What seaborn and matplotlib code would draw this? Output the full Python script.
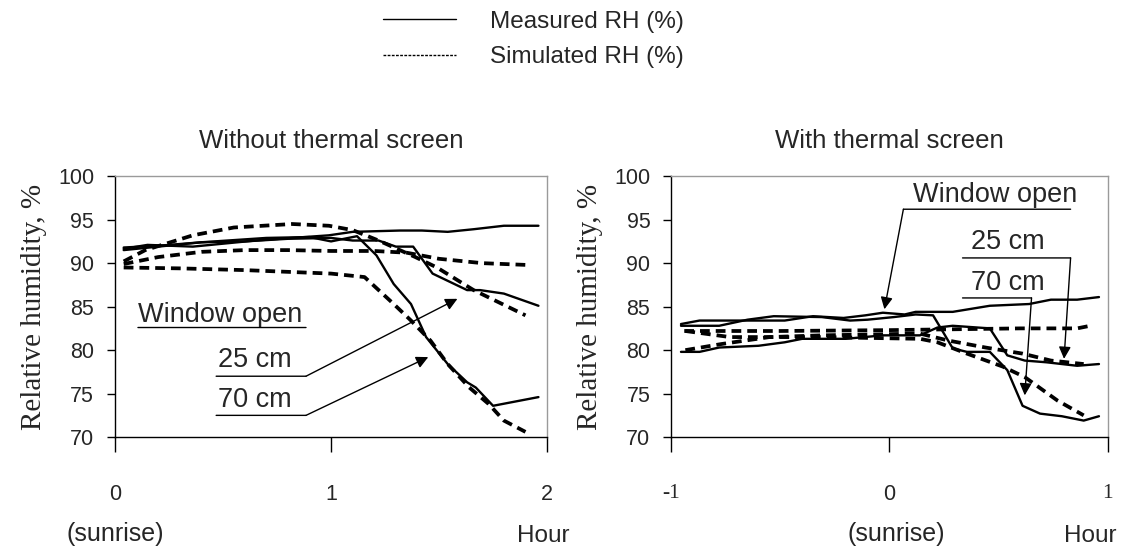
import matplotlib
matplotlib.use('Agg')
import matplotlib.pyplot as plt
import seaborn as sns
import pandas as pd
from matplotlib.lines import Line2D

# ---------------- data ----------------
# without thermal screen
no_closed_meas_x = [0.04, 0.15, 0.36, 0.65, 0.99, 1.10, 1.32, 1.42, 1.54, 1.66, 1.80, 1.96]
no_closed_meas_y = [91.65, 92.1, 91.9, 92.6, 93.2, 93.6, 93.75, 93.75, 93.6, 93.9, 94.3, 94.3]
no_25_meas_x = [0.04, 0.2, 0.4, 0.6, 0.8, 1.0, 1.1, 1.22, 1.3, 1.38, 1.47, 1.63, 1.69, 1.80, 1.96]
no_25_meas_y = [91.8, 92.0, 92.4, 92.5, 92.8, 92.9, 92.6, 92.6, 91.9, 91.9, 88.8, 86.9, 86.9, 86.5, 85.1]
no_70_meas_x = [0.04, 0.2, 0.4, 0.7, 0.9, 1.0, 1.12, 1.21, 1.29, 1.37, 1.44, 1.54, 1.63, 1.67, 1.75, 1.96]
no_70_meas_y = [91.5, 91.9, 92.4, 92.9, 93.0, 92.5, 93.1, 90.9, 87.6, 85.3, 81.5, 78.4, 76.3, 75.7, 73.6, 74.6]
no_closed_sim_x = [0.04, 0.2, 0.4, 0.6, 0.8, 1.0, 1.2, 1.35, 1.5, 1.7, 1.9]
no_closed_sim_y = [89.9, 90.7, 91.3, 91.5, 91.5, 91.4, 91.4, 91.2, 90.5, 90.0, 89.8]
no_25_sim_x = [0.04, 0.14, 0.36, 0.55, 0.82, 0.99, 1.1, 1.22, 1.39, 1.49, 1.66, 1.90]
no_25_sim_y = [90.2, 91.5, 93.2, 94.1, 94.5, 94.3, 93.8, 92.6, 90.7, 89.5, 86.9, 84.0]
no_70_sim_x = [0.04, 0.3, 0.6, 0.9, 1.0, 1.155, 1.29, 1.37, 1.46, 1.54, 1.64, 1.73, 1.80, 1.90]
no_70_sim_y = [89.5, 89.4, 89.2, 88.9, 88.8, 88.4, 85.3, 83.4, 81.1, 78.4, 75.7, 73.8, 71.9, 70.6]

# with thermal screen
sc_closed_meas_x = [-0.955, -0.87, -0.48, -0.35, -0.21, -0.11, -0.03, 0.07, 0.12, 0.29, 0.46, 0.64, 0.74, 0.86, 0.96]
sc_closed_meas_y = [83.0, 83.4, 83.4, 83.9, 83.7, 84.0, 84.3, 84.1, 84.4, 84.4, 85.1, 85.3, 85.8, 85.8, 86.1]
sc_25_meas_x = [-0.955, -0.87, -0.78, -0.60, -0.48, -0.40, -0.20, -0.03, 0.14, 0.22, 0.29, 0.46, 0.54, 0.62, 0.72, 0.86, 0.96]
sc_25_meas_y = [79.8, 79.8, 80.3, 80.5, 80.9, 81.3, 81.3, 81.7, 81.7, 82.6, 82.8, 82.5, 79.4, 78.8, 78.6, 78.2, 78.4]
sc_70_meas_x = [-0.955, -0.78, -0.65, -0.53, -0.31, -0.18, -0.10, 0.02, 0.12, 0.20, 0.25, 0.29, 0.355, 0.46, 0.54, 0.61, 0.69, 0.79, 0.89, 0.96]
sc_70_meas_y = [82.8, 82.8, 83.5, 83.9, 83.8, 83.4, 83.5, 83.8, 84.1, 84.0, 81.9, 80.2, 79.8, 79.8, 77.7, 73.6, 72.7, 72.4, 71.9, 72.4]
sc_closed_sim_x = [-0.94, -0.5, 0.0, 0.3, 0.6, 0.86, 0.92]
sc_closed_sim_y = [82.2, 82.2, 82.3, 82.4, 82.5, 82.5, 82.8]
sc_25_sim_x = [-0.935, -0.77, -0.55, -0.31, 0.14, 0.27, 0.44, 0.61, 0.74, 0.89]
sc_25_sim_y = [80.0, 80.7, 81.5, 81.7, 81.9, 81.1, 80.3, 79.6, 78.8, 78.4]
sc_70_sim_x = [-0.935, -0.73, -0.31, 0.14, 0.22, 0.355, 0.52, 0.62, 0.77, 0.89]
sc_70_sim_y = [82.2, 81.5, 81.5, 81.3, 80.9, 79.6, 78.1, 76.9, 74.2, 72.5]

panel_titles = ['Without thermal screen', 'With thermal screen']
legend_labels = ['Measured RH (%)', 'Simulated RH (%)']
y_ticks = [70, 75, 80, 85, 90, 95, 100]

# ---------------- style ----------------
sns.set_style('ticks')
plt.rcParams['font.family'] = ['Liberation Sans', 'DejaVu Sans']
SERIF = 'Liberation Serif'

fig = plt.figure(figsize=(11.28, 5.54), dpi=100)
ax1 = fig.add_axes([0.1020, 0.211, 0.3830, 0.471])
ax2 = fig.add_axes([0.5950, 0.211, 0.3870, 0.471])

solid_kw = dict(color='black', linewidth=1.7)
dash_kw = dict(color='black', linewidth=2.7, dashes=(2.6, 1.6))


def draw(ax, x, y, kw):
    df = pd.DataFrame({'hour': x, 'rh': y})
    sns.lineplot(data=df, x='hour', y='rh', ax=ax, estimator=None, sort=False, **kw)


for x, y in [(no_closed_sim_x, no_closed_sim_y), (no_25_sim_x, no_25_sim_y), (no_70_sim_x, no_70_sim_y)]:
    draw(ax1, x, y, dash_kw)
for x, y in [(no_closed_meas_x, no_closed_meas_y), (no_25_meas_x, no_25_meas_y), (no_70_meas_x, no_70_meas_y)]:
    draw(ax1, x, y, solid_kw)
for x, y in [(sc_closed_sim_x, sc_closed_sim_y), (sc_25_sim_x, sc_25_sim_y), (sc_70_sim_x, sc_70_sim_y)]:
    draw(ax2, x, y, dash_kw)
for x, y in [(sc_closed_meas_x, sc_closed_meas_y), (sc_25_meas_x, sc_25_meas_y), (sc_70_meas_x, sc_70_meas_y)]:
    draw(ax2, x, y, solid_kw)

# ---------------- axes ----------------
for ax, title, xlim in [(ax1, panel_titles[0], (0, 2)), (ax2, panel_titles[1], (-1, 1))]:
    ax.set_xlim(*xlim)
    ax.set_ylim(70, 100)
    ax.set_yticks(y_ticks)
    ax.set_xticks([xlim[0], (xlim[0] + xlim[1]) / 2, xlim[1]])
    ax.set_xlabel('')
    ax.set_ylabel('Relative humidity, %', family=SERIF, fontsize=21, labelpad=8)
    ax.set_title(title, fontsize=18.5, pad=20)
    for s in ['left', 'bottom']:
        ax.spines[s].set_color('black')
        ax.spines[s].set_linewidth(1.0)
    for s in ['top', 'right']:
        ax.spines[s].set_color('#9a9a9a')
        ax.spines[s].set_linewidth(1.0)
    ax.tick_params(axis='y', length=6, width=1, labelsize=15.5, pad=9, color='black')
    ax.tick_params(axis='x', length=11, width=1, labelsize=15.5, pad=23, color='black')

ax1.set_xticklabels(['0', '1', '2'])
ax2.set_xticklabels(['-1', '0', '1'])
for lab, fam in zip(ax2.get_xticklabels(), [SERIF, 'Liberation Sans', SERIF]):
    lab.set_family(fam)

tr1 = ax1.get_xaxis_transform()
tr2 = ax2.get_xaxis_transform()
ax1.text(0.0, -0.37, '(sunrise)', transform=tr1, ha='center', va='center', fontsize=18)
ax1.text(1.98, -0.38, 'Hour', transform=tr1, ha='center', va='center', fontsize=17.5)
ax2.text(0.03, -0.37, '(sunrise)', transform=tr2, ha='center', va='center', fontsize=18)
ax2.text(0.92, -0.38, 'Hour', transform=tr2, ha='center', va='center', fontsize=17.5)

# ---------------- annotations ----------------
arrow = dict(arrowstyle='-|>', color='black', lw=1.0, mutation_scale=18, shrinkA=0, shrinkB=0)
plain = dict(arrowstyle='-', color='black', lw=1.0, shrinkA=0, shrinkB=0)
afs = 19.5

# left panel
ax1.text(0.106, 84.0, 'Window open', fontsize=afs, ha='left', va='center')
ax1.annotate('', xy=(0.884, 82.6), xytext=(0.106, 82.6), arrowprops=plain)
ax1.text(0.477, 78.85, '25 cm', fontsize=afs, ha='left', va='center')
ax1.annotate('', xy=(0.884, 77.0), xytext=(0.468, 77.0), arrowprops=plain)
ax1.annotate('', xy=(1.585, 85.9), xytext=(0.884, 77.0), arrowprops=arrow)
ax1.text(0.477, 74.25, '70 cm', fontsize=afs, ha='left', va='center')
ax1.annotate('', xy=(0.884, 72.5), xytext=(0.468, 72.5), arrowprops=plain)
ax1.annotate('', xy=(1.45, 79.2), xytext=(0.884, 72.5), arrowprops=arrow)

# right panel
ax2.text(0.106, 97.8, 'Window open', fontsize=afs, ha='left', va='center')
ax2.annotate('', xy=(0.83, 96.2), xytext=(0.064, 96.2), arrowprops=plain)
ax2.annotate('', xy=(-0.023, 84.7), xytext=(0.064, 96.2), arrowprops=arrow)
ax2.text(0.372, 92.4, '25 cm', fontsize=afs, ha='left', va='center')
ax2.annotate('', xy=(0.83, 90.6), xytext=(0.335, 90.6), arrowprops=plain)
ax2.annotate('', xy=(0.80, 79.0), xytext=(0.83, 90.6), arrowprops=arrow)
ax2.text(0.372, 87.7, '70 cm', fontsize=afs, ha='left', va='center')
ax2.annotate('', xy=(0.651, 86.0), xytext=(0.335, 86.0), arrowprops=plain)
ax2.annotate('', xy=(0.62, 74.8), xytext=(0.651, 86.0), arrowprops=arrow)

# ---------------- legend ----------------
handles = [Line2D([], [], color='black', lw=1.0),
           Line2D([], [], color='black', lw=1.0, dashes=(2, 1))]
fig.legend(handles, legend_labels, loc='upper center', bbox_to_anchor=(0.473, 1.02),
           frameon=False, fontsize=17.5, handlelength=3.0, handletextpad=1.4,
           labelspacing=0.55)

fig.savefig('out.png', dpi=100)
